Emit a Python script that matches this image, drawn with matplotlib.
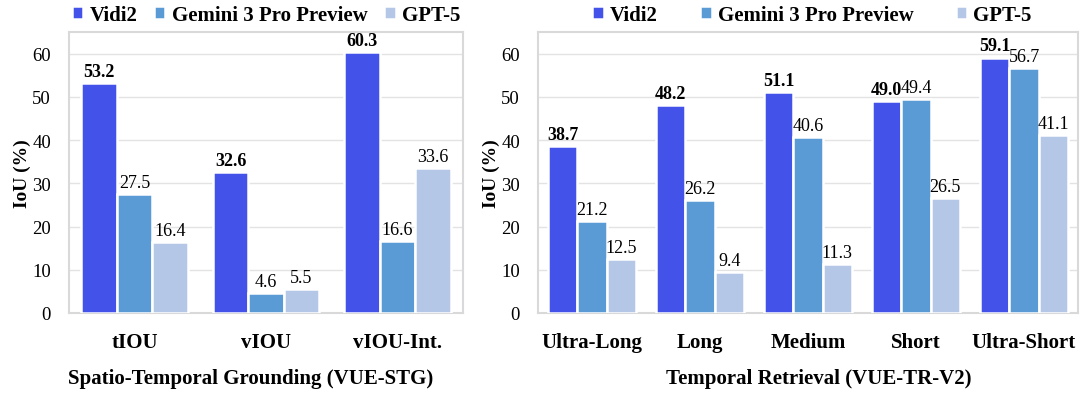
import numpy as np
import matplotlib
matplotlib.use('Agg')
import matplotlib.pyplot as plt

plt.rcParams['font.family'] = ['Liberation Serif', 'DejaVu Serif']

# data
models = ['Vidi2', 'Gemini 3 Pro Preview', 'GPT-5']
colors = ['#4352E8', '#5B9BD5', '#B4C7E7']

stg_cats = ['tIOU', 'vIOU', 'vIOU-Int.']
stg_vidi2 = [53.2, 32.6, 60.3]
stg_gemini = [27.5, 4.6, 16.6]
stg_gpt5 = [16.4, 5.5, 33.6]

tr_cats = ['Ultra-Long', 'Long', 'Medium', 'Short', 'Ultra-Short']
tr_vidi2 = [38.7, 48.2, 51.1, 49.0, 59.1]
tr_gemini = [21.2, 26.2, 40.6, 49.4, 56.7]
tr_gpt5 = [12.5, 9.4, 11.3, 26.5, 41.1]

W, H = 1080, 402
fig = plt.figure(figsize=(W / 100, H / 100), dpi=100)


def draw_panel(ax, cats, series, title, title_x):
	x = np.arange(len(cats))
	width = 0.27
	for i, (vals, c) in enumerate(zip(series, colors)):
		b = ax.bar(x + (i - 1) * width, vals, width, color=c, edgecolor='white',
				   linewidth=1.8, label=models[i], zorder=3)
		for rect, v in zip(b, vals):
			ax.text(rect.get_x() + rect.get_width() / 2, v + 0.7, f'{v:.1f}',
					ha='center', va='bottom', fontsize=13,
					fontweight='bold' if i == 0 else 'normal')
	ax.set_xlim(-0.5, len(cats) - 0.5)
	ax.set_ylim(0, 65)
	ax.set_yticks(range(0, 61, 10))
	ax.set_xticks(x)
	ax.set_xticklabels(cats, fontsize=15, fontweight='bold')
	ax.tick_params(axis='x', length=0, pad=14)
	ax.tick_params(axis='y', length=0, pad=13, labelsize=13.5)
	ax.yaxis.grid(True, color='#E3E3E3', linewidth=1, zorder=0)
	for s in ax.spines.values():
		s.set_color('#D9D9D9')
		s.set_linewidth(1.5)
	ax.set_ylabel('IoU (%)', fontsize=14, fontweight='bold', labelpad=1)
	ax.set_xlabel(title, fontsize=15, fontweight='bold', labelpad=11, x=title_x)


ax1 = fig.add_axes([69 / W, (H - 314) / H, (463 - 69) / W, (314 - 33) / H])
draw_panel(ax1, stg_cats, [stg_vidi2, stg_gemini, stg_gpt5],
		   'Spatio-Temporal Grounding (VUE-STG)', 0.46)
ax1.legend(loc='lower center', bbox_to_anchor=(0.5, 0.995), ncol=3, frameon=False,
		   prop={'weight': 'bold', 'size': 15}, handlelength=0.55, handleheight=0.55,
		   handletextpad=0.3, columnspacing=0.8, borderaxespad=0.0)

ax2 = fig.add_axes([538 / W, (H - 314) / H, (1078 - 538) / W, (314 - 33) / H])
draw_panel(ax2, tr_cats, [tr_vidi2, tr_gemini, tr_gpt5],
		   'Temporal Retrieval (VUE-TR-V2)', 0.52)
ax2.legend(loc='lower left', bbox_to_anchor=(0.085, 0.995, 0.845, 0.1), ncol=3, mode='expand',
		   frameon=False, prop={'weight': 'bold', 'size': 15}, handlelength=0.55,
		   handleheight=0.55, handletextpad=0.3, borderaxespad=0.0)

fig.savefig('out.png', dpi=100)
